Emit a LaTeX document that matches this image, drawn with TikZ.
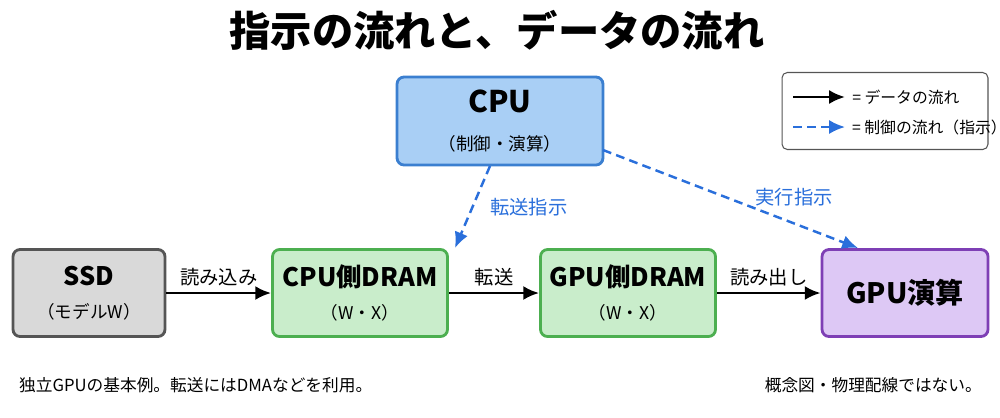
\documentclass[tikz,border=0pt]{standalone}
\usepackage{fontspec}
\setmainfont{Noto Sans CJK JP}
\usetikzlibrary{arrows.meta,positioning}
\definecolor{boxgray}{HTML}{D9D9D9}
\definecolor{edgegray}{HTML}{555555}
\definecolor{boxgreen}{HTML}{C9EDCB}
\definecolor{edgegreen}{HTML}{4CAF50}
\definecolor{boxpurple}{HTML}{DDC8F5}
\definecolor{edgepurple}{HTML}{7E3FB5}
\definecolor{boxblue}{HTML}{A9CFF5}
\definecolor{edgeblue}{HTML}{3B7FD0}
\definecolor{ctrlblue}{HTML}{2A6FDB}
\newcommand\subtxt[1]{{\fontsize{10}{12}\selectfont\mdseries #1}}
\tikzset{
  unit/.style={draw, line width=1.6pt, rounded corners=4pt, minimum height=1.74cm, align=center, font=\fontsize{14.5}{18}\selectfont\bfseries},
  data/.style={-{Latex[length=9pt,width=8pt]}, line width=1.6pt},
  ctrl/.style={-{Latex[length=9pt,width=8pt]}, line width=1.4pt, dash pattern=on 5pt off 3pt, ctrlblue},
  lbl/.style={font=\fontsize{11}{13}\selectfont}
}
\begin{document}
\begin{tikzpicture}[x=0.02cm, y=-0.02cm]
\useasboundingbox (0,0) rectangle (1000,417);

\node[font=\fontsize{23.5}{28}\selectfont\bfseries] (title) at (497,30) {指示の流れと、データの流れ};

\node[unit, fill=boxblue, draw=edgeblue, minimum width=4.12cm, minimum height=1.76cm, font=\fontsize{17}{21}\selectfont\bfseries] (cpu) at (500,121) {CPU\\[1pt]\subtxt{（制御・演算）}};

\node[unit, fill=boxgray, draw=edgegray, minimum width=3.04cm] (ssd) at (89,293) {SSD\\[1pt]\subtxt{（モデルW）}};
\node[unit, fill=boxgreen, draw=edgegreen, minimum width=3.5cm] (cdram) at (360,293) {CPU側DRAM\\[1pt]\subtxt{（W・X）}};
\node[unit, fill=boxgreen, draw=edgegreen, minimum width=3.5cm] (gdram) at (628,293) {GPU側DRAM\\[1pt]\subtxt{（W・X）}};
\node[unit, fill=boxpurple, draw=edgepurple, minimum width=3.32cm, font=\fontsize{16}{19}\selectfont\bfseries] (gpu) at (905,293) {GPU演算};

\draw[data] (ssd) -- node[above, lbl] {読み込み} (cdram);
\draw[data] (cdram) -- node[above, lbl] {転送} (gdram);
\draw[data] (gdram) -- node[above, lbl] {読み出し} (gpu);

\coordinate (c1) at (490,166);
\coordinate (c2) at (603,150);
\coordinate (t1) at (455,248);
\coordinate (t2) at (858,248);
\draw[ctrl] (c1) -- (t1) node[pos=0.5, right=6pt, lbl, text=ctrlblue] {転送指示};
\draw[ctrl] (c2) -- (t2) node[pos=0.75, above=6pt, lbl, text=ctrlblue] {実行指示};

% legend
\node[draw=edgegray, line width=0.6pt, rounded corners=3pt, minimum width=4.12cm, minimum height=1.54cm] (legend) at (885,111) {};
\coordinate (l1) at (793,97);
\coordinate (l2) at (793,127);
\draw[data] (l1) -- ++(52,0) node[right, font=\fontsize{9}{11}\selectfont, text=black] (leg1) {= データの流れ};
\draw[ctrl] (l2) -- ++(52,0) node[right, font=\fontsize{9}{11}\selectfont, text=black] (leg2) {= 制御の流れ（指示）};

\node[anchor=west, font=\fontsize{9.5}{11}\selectfont] (note1) at (13,385) {独立GPUの基本例。転送にはDMAなどを利用。};
\node[anchor=east, font=\fontsize{9.5}{11}\selectfont] (note2) at (988,385) {概念図・物理配線ではない。};
\end{tikzpicture}
\end{document}
